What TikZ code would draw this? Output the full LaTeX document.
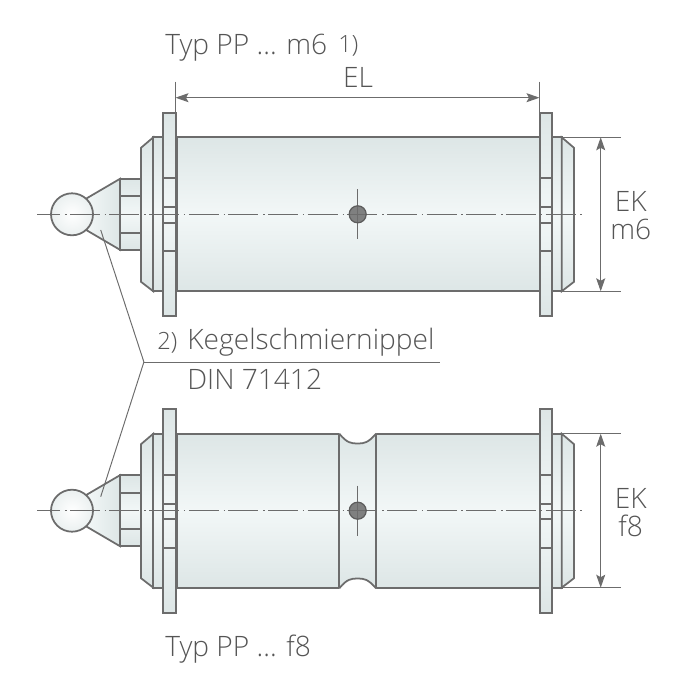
\documentclass[tikz,border=0pt]{standalone}
\usepackage{fontspec}
\setmainfont{Open Sans Light}
\usetikzlibrary{arrows.meta}
\definecolor{pinline}{HTML}{6C6C6C}
\definecolor{pinedge}{HTML}{DDE6E6}
\definecolor{pinmid}{HTML}{F2F7F7}
\definecolor{pintext}{HTML}{555555}
\tikzset{
	outline/.style = {draw = pinline, line width = 1pt},
	thinline/.style = {draw = pinline, line width = 0.55pt},
	barrel/.style = {outline, top color = pinedge, bottom color = pinedge, middle color = pinmid},
	axisline/.style = {thinline, dash pattern = on 17pt off 2.8pt on 0.9pt off 1.87pt, dash phase = 4.08pt},
	dimline/.style = {thinline, {Stealth[length = 2.6mm, width = 1.8mm, inset = 0.5mm]}-{Stealth[length = 2.6mm, width = 1.8mm, inset = 0.5mm]}},
	label/.style = {text = pintext, font = \fontsize{16}{19}\selectfont, inner sep = 0pt},
	pics/pinend/.style = {code = {
		\draw[outline, left color = pinmid, right color = pinedge] (86.7,-16) -- (120,-35.5) -- (120,35.5) -- (86.7,16) -- cycle;
		\draw[barrel] (120,-35.5) rectangle (141,35.5);
		\draw[outline] (120,-18) -- (141,-18) (120,18.5) -- (141,18.5);
		\draw[barrel] (141,-66.5) -- (153.3,-77) -- (153.3,77) -- (141,67.5) -- cycle;
		\draw[barrel] (153.3,-77) rectangle (163,77);
		\draw[barrel] (176.7,-77) rectangle (539.7,77);
		\draw[barrel] (163,-101.5) rectangle (175.7,102);
		\draw[barrel] (539.7,-101.5) rectangle (552.3,102);
		\draw[outline] (163,-36) -- (175.7,-36) (163,-7) -- (175.7,-7) (163,8.5) -- (175.7,8.5) (163,37) -- (175.7,37);
		\draw[outline] (539.7,-36) -- (552.3,-36) (539.7,-7) -- (552.3,-7) (539.7,8.5) -- (552.3,8.5) (539.7,37) -- (552.3,37);
		\draw[barrel] (552.3,-77) rectangle (561.7,77);
		\draw[barrel] (561.7,-77) -- (574,-66.5) -- (574,67.5) -- (561.7,77) -- cycle;
		\draw[outline, inner color = white, outer color = pinedge!60!white] (72,0) circle (21);
		\draw[axisline] (37.3,0) -- (581.7,0);
		\draw[thinline] (357.7,-25) -- (357.7,25);
		\draw[draw = pinline!85!black, line width = 0.7pt, fill = pinline, fill opacity = 0.85] (357.7,0) circle (8.5);
	}}
}
\begin{document}
\begin{tikzpicture}[x = 0.02cm, y = -0.02cm]
	\useasboundingbox (0,0) rectangle (700,700);
	\pic (pinTop) at (0,214.3) {pinend};
	\pic (pinLow) at (0,510.7) {pinend};

	\fill[white] (339.3,431) -- (339.3,433.7) .. controls (347,443) and (351,443.5) .. (357.7,443.5) .. controls (364,443.5) and (368,443) .. (376,433.7) -- (376,431) -- cycle;
	\fill[white] (339.3,591) -- (339.3,588.3) .. controls (347,579) and (351,578.5) .. (357.7,578.5) .. controls (364,578.5) and (368,579) .. (376,588.3) -- (376,591) -- cycle;
	\draw[outline] (339.3,433.7) .. controls (347,443) and (351,443.5) .. (357.7,443.5) .. controls (364,443.5) and (368,443) .. (376,433.7);
	\draw[outline] (339.3,588.3) .. controls (347,579) and (351,578.5) .. (357.7,578.5) .. controls (364,578.5) and (368,579) .. (376,588.3);
	\draw[outline] (339.3,433.7) -- (339.3,588.3);
	\draw[outline] (376,433.7) -- (376,588.3);

	\coordinate (elLeftTop) at (175.5,81.7);
	\coordinate (elLeftEnd) at (175.5,112.7);
	\coordinate (elRightTop) at (539.5,81.7);
	\coordinate (elRightEnd) at (539.5,112.7);
	\coordinate (elLeft) at (175.5,97.7);
	\coordinate (elRight) at (539.5,97.7);
	\draw[thinline] (elLeftTop) -- (elLeftEnd);
	\draw[thinline] (elRightTop) -- (elRightEnd);
	\draw[dimline] (elLeft) -- (elRight);

	\coordinate (ekTopA) at (562,137.3);
	\coordinate (ekTopB) at (620.7,137.3);
	\coordinate (ekTopC) at (562,291.3);
	\coordinate (ekTopD) at (620.7,291.3);
	\coordinate (ekLowA) at (562,433.7);
	\coordinate (ekLowB) at (620.7,433.7);
	\coordinate (ekLowC) at (562,587.7);
	\coordinate (ekLowD) at (620.7,587.7);
	\coordinate (ekTopUp) at (600.7,137.3);
	\coordinate (ekTopDown) at (600.7,291.3);
	\coordinate (ekLowUp) at (600.7,433.7);
	\coordinate (ekLowDown) at (600.7,587.7);
	\draw[thinline] (ekTopA) -- (ekTopB);
	\draw[thinline] (ekTopC) -- (ekTopD);
	\draw[thinline] (ekLowA) -- (ekLowB);
	\draw[thinline] (ekLowC) -- (ekLowD);
	\draw[dimline] (ekTopUp) -- (ekTopDown);
	\draw[dimline] (ekLowUp) -- (ekLowDown);

	\coordinate (leaderJoin) at (143.9,362);
	\coordinate (leaderEnd) at (440,362);
	\coordinate (coneTop) at (100.7,230);
	\coordinate (coneLow) at (100.7,496.7);
	\draw[thinline] (coneTop) -- (leaderJoin) -- (coneLow);
	\draw[thinline] (leaderJoin) -- (leaderEnd);

	\node[label, anchor = base west] (typTop) at (165,54) {Typ PP ... m6};
	\node[label, anchor = base west, font = \fontsize{13.5}{16}\selectfont] (noteOne) at (338,52) {1)};
	\node[label, anchor = base] (elText) at (358,87.7) {EL};
	\node[label, anchor = base] (ekTop) at (630.7,211.7) {EK};
	\node[label, anchor = base] (fitTop) at (630.7,239.3) {m6};
	\node[label, anchor = base] (ekLow) at (630.7,508) {EK};
	\node[label, anchor = base] (fitLow) at (630.7,536) {f8};
	\node[label, anchor = base west, font = \fontsize{13.5}{16}\selectfont] (noteTwo) at (157,349) {2)};
	\node[label, anchor = base west] (nippel) at (187,349) {Kegelschmiernippel};
	\node[label, anchor = base west] (din) at (187,389) {DIN 71412};
	\node[label, anchor = base west] (typLow) at (165,656) {Typ PP ... f8};
\end{tikzpicture}
\end{document}
